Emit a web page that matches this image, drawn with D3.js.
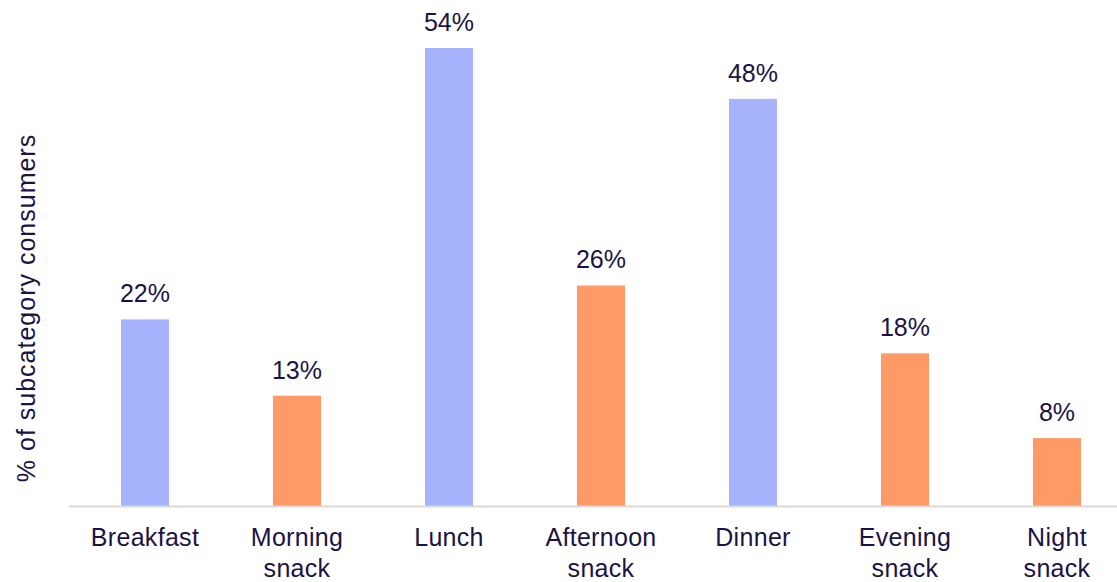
<!DOCTYPE html>
<html><head><meta charset="utf-8">
<script src="https://cdn.jsdelivr.net/npm/d3@7"></script>
<style>body{margin:0;background:#fff}svg{display:block}</style>
</head><body>
<svg id="c" width="1117" height="582"></svg>
<script>
const categories = [["Breakfast"],["Morning","snack"],["Lunch"],["Afternoon","snack"],["Dinner"],["Evening","snack"],["Night","snack"]];
const values = [22, 13, 54, 26, 48, 18, 8];
const kinds = ["meal","snack","meal","snack","meal","snack","snack"];
const yTitle = "% of subcategory consumers";

const svg = d3.select("#c");
const font = "Liberation Sans, Arial, sans-serif";
const textColor = "#1a1446";
const color = d3.scaleOrdinal().domain(["meal","snack"]).range(["#a5b4fd","#ff9966"]);

const x = d3.scaleBand().domain(d3.range(categories.length)).range([69, 1133]).paddingInner(0.684).paddingOuter(0.342);
const y = d3.scaleLinear().domain([0, 54]).range([506, 48]);

svg.selectAll("rect.bar").data(values).join("rect")
  .attr("x", (d,i) => x(i)).attr("width", x.bandwidth())
  .attr("y", d => y(d)).attr("height", d => y(0) - y(d))
  .attr("fill", (d,i) => color(kinds[i]));

svg.append("line").attr("x1", 69).attr("x2", 1117).attr("y1", y(0)+0.5).attr("y2", y(0)+0.5)
  .attr("stroke", "#d9d9d9").attr("stroke-width", 2);

svg.selectAll("text.val").data(values).join("text")
  .attr("x", (d,i) => x(i) + x.bandwidth()/2).attr("y", d => y(d) - 17)
  .attr("text-anchor", "middle").attr("font-family", font).attr("font-size", 25)
  .attr("fill", textColor).text(d => d + "%");

const lbl = svg.selectAll("text.cat").data(categories).join("text")
  .attr("text-anchor", "middle").attr("font-family", font).attr("font-size", 25)
  .attr("letter-spacing", 0.3)
  .attr("fill", textColor);
lbl.each(function(lines, i){
  d3.select(this).selectAll("tspan").data(lines).join("tspan")
    .attr("x", x(i) + x.bandwidth()/2).attr("y", (l,j) => 546 + j*31).text(l => l);
});

svg.append("text").attr("transform", "translate(35,308) rotate(-90)")
  .attr("text-anchor", "middle").attr("font-family", font).attr("font-size", 25)
  .attr("letter-spacing", 1)
  .attr("fill", textColor).text(yTitle);
</script>
</body></html>
